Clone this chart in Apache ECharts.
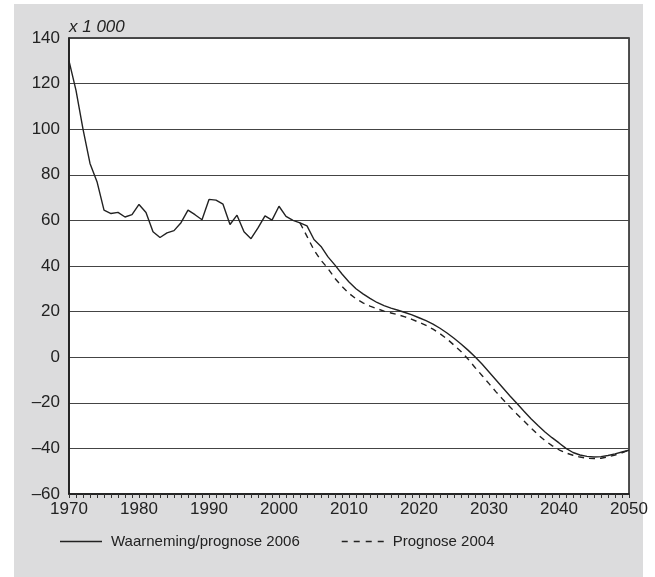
<!DOCTYPE html>
<html><head><meta charset="utf-8">
<script src="https://cdn.jsdelivr.net/npm/echarts@6/dist/echarts.min.js"></script>
<style>html,body{margin:0;padding:0;background:#fff}#c{width:655px;height:577px}</style>
</head><body><div id="c"></div>
<script>
const obsYears = [];
for (let y = 1970; y <= 2050; y++) obsYears.push(y);
const solidValues = [
130,117,100,85,77,64.5,63,63.5,61.5,62.5,
67,63.5,55,52.5,54.5,55.5,59,64.5,62.5,60.3,
69.2,68.9,67.1,58.2,62.3,55,52,56.7,62,60.1,
66.2,61.8,60,58.9,57.6,51.6,48.6,44,40.4,36.5,
33,30,27.8,25.8,24,22.6,21.5,20.6,19.6,18.6,
17.3,16,14.5,12.7,10.6,8.3,5.8,3.1,0.2,-3,
-6.5,-10,-13.5,-17,-20.3,-23.7,-27,-30,-32.8,-35.3,
-37.6,-40,-41.8,-42.9,-43.5,-43.8,-43.6,-43.1,-42.4,-41.6,
-40.8];
const dashYears = [];
for (let y = 2003; y <= 2050; y++) dashYears.push(y);
const dashValues = [
58.9,53,47,42.5,38.9,34.5,31,28,25.6,23.8,
22.4,21.3,20.2,19.4,18.6,17.7,16.6,15.3,14,12.3,
10.3,8,5.3,2.5,-0.8,-4.5,-8,-11.6,-15.2,-18.6,
-21.8,-25,-28,-31,-34,-36.6,-38.8,-40.6,-42,-43,
-43.8,-44.3,-44.5,-44.3,-43.7,-42.9,-41.9,-40.8];
const seriesNames = ['Waarneming/prognose 2006', 'Prognose 2004'];
const yUnit = 'x 1 000';

const chart = echarts.init(document.getElementById('c'));
const font = 'Liberation Sans, Arial, Helvetica, sans-serif';
const solidIcon = 'path://M0,0H42V1.4H0Z';
const dashIcon = 'path://M0,0H6V1.4H0Z M12,0H18V1.4H12Z M24,0H30V1.4H24Z M36,0H42V1.4H36Z';
chart.setOption({
  animation: false,
  textStyle: { fontFamily: font },
  graphic: [{ type: 'rect', z: -10, shape: { x: 14, y: 4, width: 629, height: 573 }, style: { fill: '#dcdcdd' } }],
  grid: { left: 69, top: 38, right: 26, bottom: 83, show: true, backgroundColor: '#fff', borderColor: '#1a1a1a', borderWidth: 1.5 },
  legend: {
    left: 55, top: 529, itemWidth: 42, itemHeight: 1.4, itemGap: 42,
    textStyle: { fontSize: 15, color: '#222', fontFamily: font, padding: [0, 0, 0, 4] },
    data: [{ name: seriesNames[0], icon: solidIcon }, { name: seriesNames[1], icon: dashIcon }]
  },
  xAxis: {
    type: 'value', min: 1970, max: 2050, interval: 10,
    axisLine: { onZero: false, lineStyle: { color: '#1a1a1a', width: 1.5 } },
    axisTick: { show: true, length: 4, lineStyle: { color: '#333' } },
    minorTick: { show: true, splitNumber: 10, length: 4, lineStyle: { color: '#333' } },
    splitLine: { show: false },
    axisLabel: { fontSize: 17, color: '#222', margin: 7, formatter: v => String(v) }
  },
  yAxis: {
    type: 'value', min: -60, max: 140, interval: 20,
    name: yUnit, nameLocation: 'end', nameGap: 2,
    nameTextStyle: { fontStyle: 'italic', fontSize: 17, color: '#222', align: 'left', padding: [0, 0, 0, 0] },
    axisLine: { show: true, lineStyle: { color: '#1a1a1a', width: 1.5 } },
    axisTick: { show: false },
    splitLine: { lineStyle: { color: '#444', width: 1 } },
    axisLabel: { fontSize: 17, color: '#222', margin: 9, formatter: v => String(v).replace('-', '\u2013') }
  },
  series: [
    { name: seriesNames[0], type: 'line', symbol: 'none', z: 3,
      lineStyle: { color: '#222', width: 1.4 },
      itemStyle: { color: '#222' },
      data: obsYears.map((y, i) => [y, solidValues[i]]) },
    { name: seriesNames[1], type: 'line', symbol: 'none', z: 2,
      lineStyle: { color: '#222', width: 1.4, type: [6, 5] },
      itemStyle: { color: '#222' },
      data: dashYears.map((y, i) => [y, dashValues[i]]) }
  ]
});
</script></body></html>
